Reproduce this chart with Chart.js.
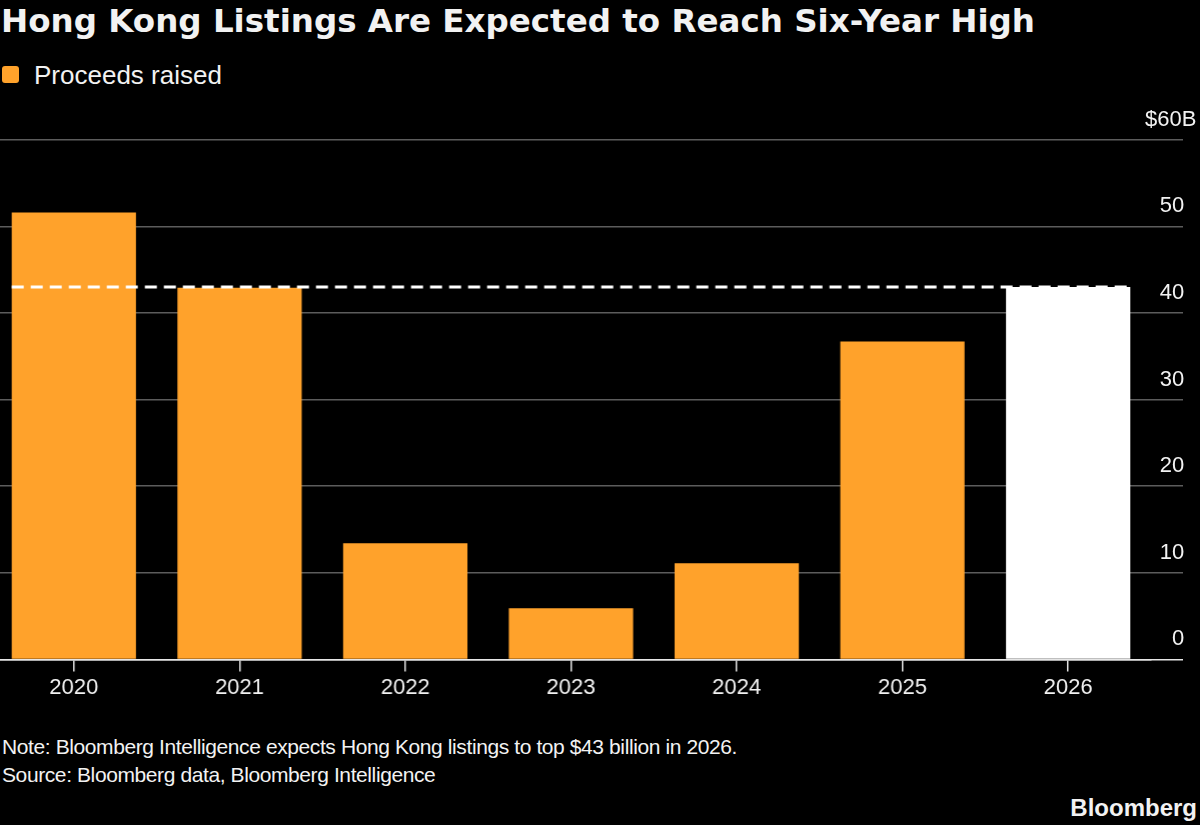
<!DOCTYPE html>
<html>
<head>
<meta charset="utf-8">
<title>Hong Kong Listings</title>
<script src="https://cdn.jsdelivr.net/npm/chart.js@4.4.1/dist/chart.umd.min.js"></script>
<style>
  html, body { margin: 0; padding: 0; background: #000; }
  body { width: 1200px; height: 825px; position: relative; overflow: hidden; color: #f2f2f2; font-family: "Liberation Sans", Arial, sans-serif; }
  #title { position: absolute; left: 1px; top: 1.5px; font-family: "DejaVu Sans", sans-serif; font-weight: bold; font-size: 32.5px; white-space: nowrap; }
  #legend { position: absolute; left: 0; top: 60px; font-size: 26px; white-space: nowrap; }
  #legend .box { position: absolute; left: 1.5px; top: 6px; width: 17px; height: 17px; border-radius: 3px; background: #ffa22b; }
  #legend .lbl { position: absolute; left: 34px; top: 0; }
  /* y-axis padding (45.5) plus half a label line (13.2) is reserved above and below the plot */
  #chartBox { position: absolute; left: -9px; top: 80.6px; width: 1204.5px; height: 637.1px; }
  .note { position: absolute; left: 2px; font-size: 21px; letter-spacing: -0.4px; white-space: nowrap; }
  #brand { position: absolute; right: 3px; top: 794px; font-weight: bold; font-size: 24px; }
</style>
</head>
<body>
<div id="title">Hong Kong Listings Are Expected to Reach Six-Year High</div>
<div id="legend"><span class="box"></span><span class="lbl">Proceeds raised</span></div>
<div id="chartBox"><canvas id="ipoChart"></canvas></div>
<div class="note" style="top:735px">Note: Bloomberg Intelligence expects Hong Kong listings to top $43 billion in 2026.</div>
<div class="note" style="top:762.5px">Source: Bloomberg data, Bloomberg Intelligence</div>
<div id="brand">Bloomberg</div>

<script>
// Data (billions of USD)
const years = ['2020', '2021', '2022', '2023', '2024', '2025', '2026'];
const proceeds = [51.6, 42.9, 13.4, 5.9, 11.1, 36.7, 43];
const forecastYear = '2026';
const target2026 = 43;
const yTicks = [0, 10, 20, 30, 40, 50, 60];

const orange = '#ffa22b';
const gridGrey = '#5c5c5c';
const textColor = '#f2f2f2';

// dashed line at the 2026 target, spanning from first bar to last bar
const targetLine = {
    id: 'targetLine',
    afterDatasetsDraw(chart) {
        const ctx = chart.ctx;
        const bars = chart.getDatasetMeta(0).data;
        const first = bars[0];
        const last = bars[bars.length - 1];
        const yPos = chart.scales.y.getPixelForValue(target2026);
        ctx.save();
        ctx.strokeStyle = '#ffffff';
        ctx.lineWidth = 3;
        ctx.setLineDash([12, 7]);
        ctx.beginPath();
        ctx.moveTo(first.x - first.width / 2, yPos);
        ctx.lineTo(last.x + last.width / 2, yPos);
        ctx.stroke();
        ctx.restore();
    }
};

const ctx = document.getElementById('ipoChart').getContext('2d');
new Chart(ctx, {
    type: 'bar',
    data: {
        labels: years,
        datasets: [{
            label: 'Proceeds raised',
            data: proceeds,
            backgroundColor: years.map(y => y === forecastYear ? '#ffffff' : orange),
            categoryPercentage: 1,
            barPercentage: 0.75
        }]
    },
    options: {
        responsive: true,
        maintainAspectRatio: false,
        animation: false,
        layout: { padding: 0 },
        plugins: {
            legend: { display: false },
            tooltip: { enabled: false }
        },
        scales: {
            x: {
                offset: true,
                grid: {
                    offset: false,
                    drawOnChartArea: false,
                    drawTicks: true,
                    tickLength: 12,
                    color: '#e6e6e6',
                    lineWidth: 1.5
                },
                border: { display: true, color: '#e6e6e6', width: 1.5 },
                ticks: {
                    color: textColor,
                    padding: 3,
                    font: { family: 'Liberation Sans', size: 22, lineHeight: 1.2 }
                },
                afterFit: scale => { scale.height = 58.7; }
            },
            y: {
                position: 'right',
                min: 0,
                max: 60,
                afterBuildTicks: scale => { scale.ticks = yTicks.map(v => ({ value: v })); },
                grid: {
                    color: c => c.tick && c.tick.value === 0 ? '#e6e6e6' : gridGrey,
                    lineWidth: 1.5,
                    drawTicks: true,
                    tickLength: 32
                },
                border: { display: false },
                ticks: {
                    color: textColor,
                    mirror: true,
                    crossAlign: 'near',
                    padding: 45.5,
                    labelOffset: -20,
                    font: { family: 'Liberation Sans', size: 22, lineHeight: 1.2 },
                    callback: v => v === 60 ? '$60B' : v + '  '
                },
                afterFit: scale => { scale.width = 45.5; }
            }
        }
    },
    plugins: [targetLine]
});
</script>
</body>
</html>
